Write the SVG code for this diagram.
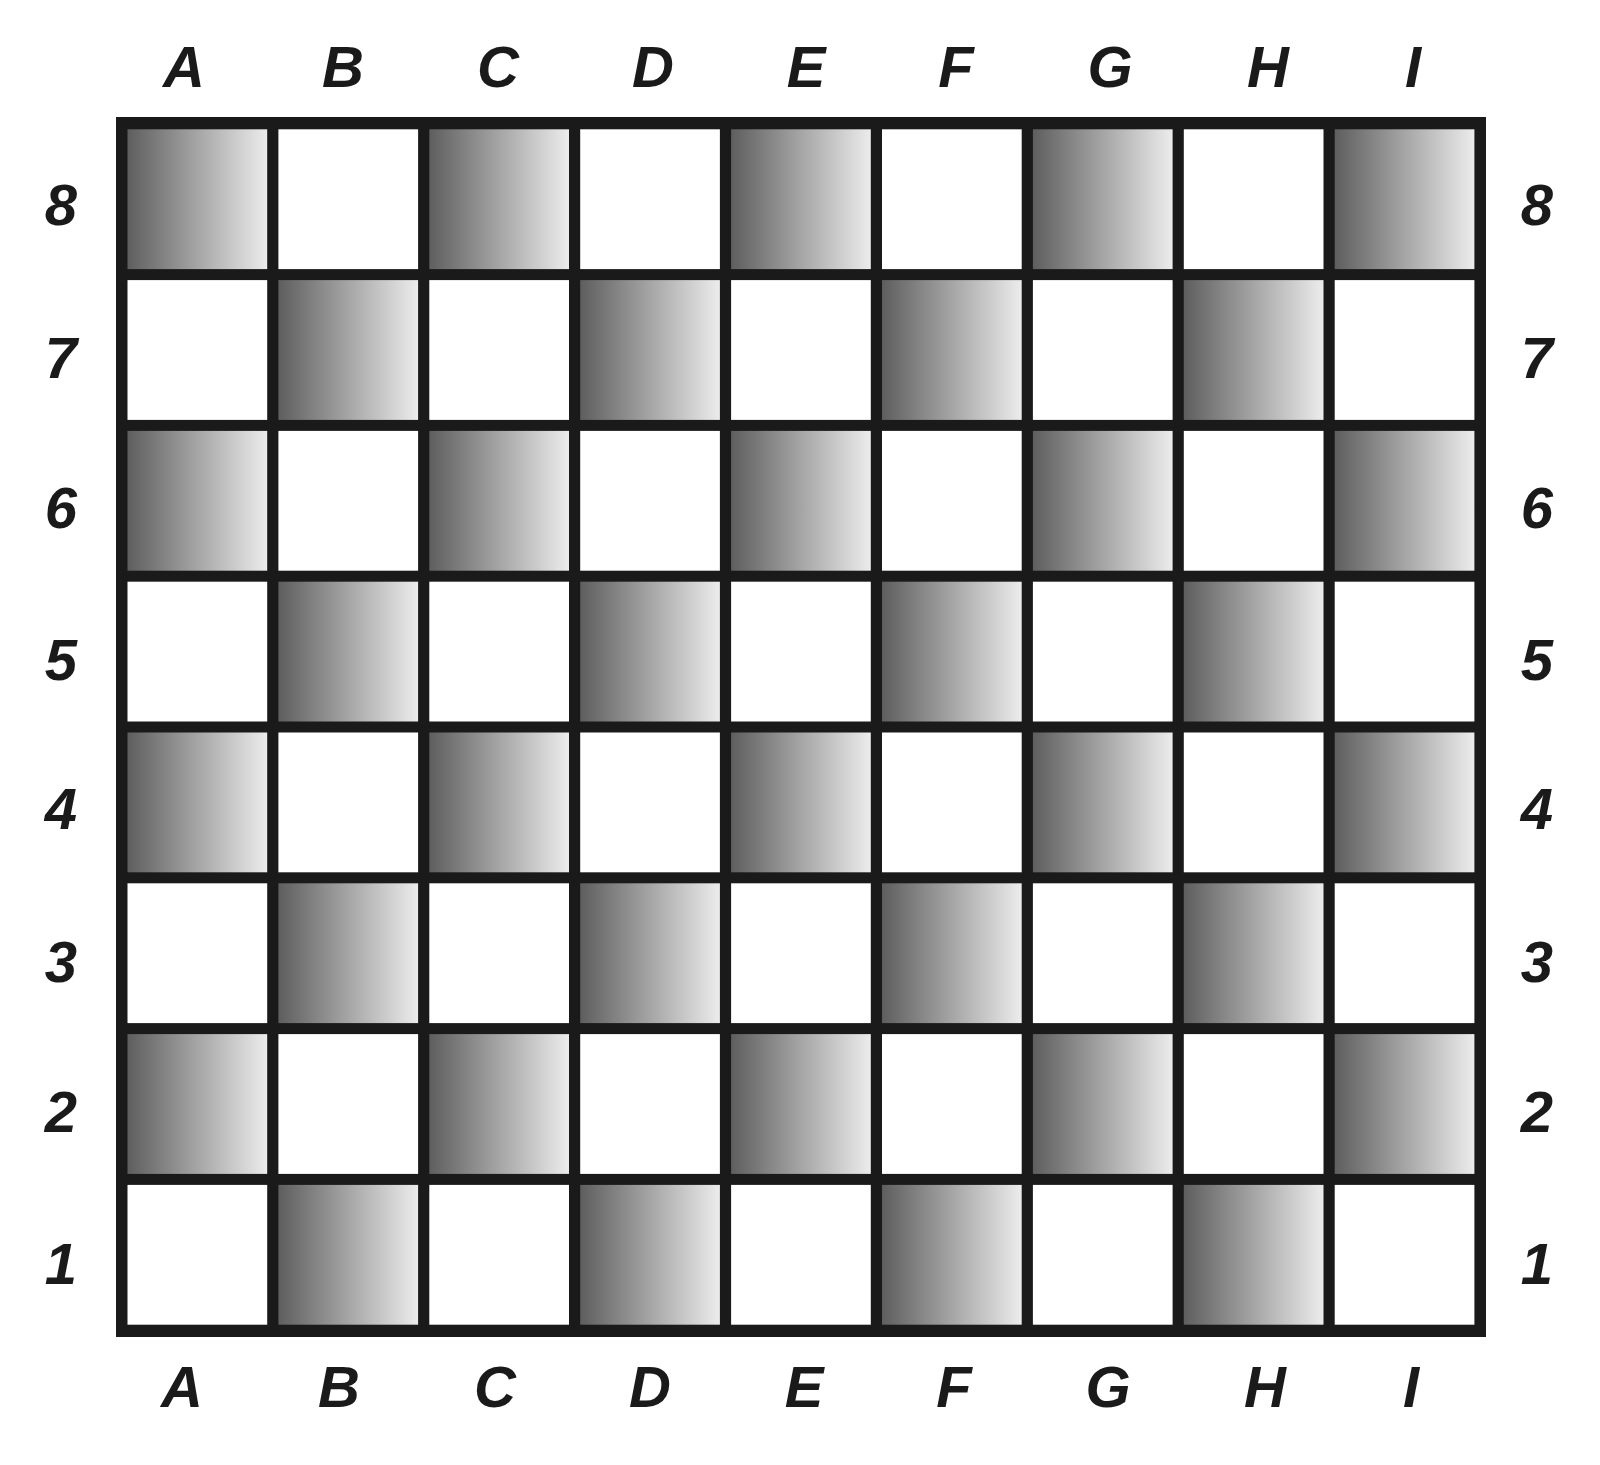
<svg xmlns="http://www.w3.org/2000/svg" width="1600" height="1465" viewBox="0 0 1600 1465">
<defs>
<linearGradient id="shade" x1="0" y1="0" x2="1" y2="0">
<stop offset="0" stop-color="#5e5e5e"/>
<stop offset="1" stop-color="#ececec"/>
</linearGradient>
<style>
.d{fill:url(#shade);}
.w{fill:#ffffff;}
.lbl{font-family:"Liberation Sans",Arial,sans-serif;font-weight:bold;font-style:italic;font-size:58px;fill:#1a1a1a;text-anchor:middle;}
</style>
</defs>
<rect width="1600" height="1465" fill="#ffffff"/>
<g id="board">
<rect x="116" y="117" width="1370" height="1220" fill="#1a1a1a"/>
</g>
<g id="cells">
<g id="row8">
<rect class="d" x="127.5" y="129.3" width="139.7" height="139.8"/>
<rect class="w" x="278.4" y="129.3" width="139.7" height="139.8"/>
<rect class="d" x="429.3" y="129.3" width="139.7" height="139.8"/>
<rect class="w" x="580.2" y="129.3" width="139.7" height="139.8"/>
<rect class="d" x="731.1" y="129.3" width="139.7" height="139.8"/>
<rect class="w" x="882" y="129.3" width="139.7" height="139.8"/>
<rect class="d" x="1032.9" y="129.3" width="139.7" height="139.8"/>
<rect class="w" x="1183.8" y="129.3" width="139.7" height="139.8"/>
<rect class="d" x="1334.7" y="129.3" width="139.7" height="139.8"/>
</g>
<g id="row7">
<rect class="w" x="127.5" y="280.1" width="139.7" height="139.8"/>
<rect class="d" x="278.4" y="280.1" width="139.7" height="139.8"/>
<rect class="w" x="429.3" y="280.1" width="139.7" height="139.8"/>
<rect class="d" x="580.2" y="280.1" width="139.7" height="139.8"/>
<rect class="w" x="731.1" y="280.1" width="139.7" height="139.8"/>
<rect class="d" x="882" y="280.1" width="139.7" height="139.8"/>
<rect class="w" x="1032.9" y="280.1" width="139.7" height="139.8"/>
<rect class="d" x="1183.8" y="280.1" width="139.7" height="139.8"/>
<rect class="w" x="1334.7" y="280.1" width="139.7" height="139.8"/>
</g>
<g id="row6">
<rect class="d" x="127.5" y="430.9" width="139.7" height="139.8"/>
<rect class="w" x="278.4" y="430.9" width="139.7" height="139.8"/>
<rect class="d" x="429.3" y="430.9" width="139.7" height="139.8"/>
<rect class="w" x="580.2" y="430.9" width="139.7" height="139.8"/>
<rect class="d" x="731.1" y="430.9" width="139.7" height="139.8"/>
<rect class="w" x="882" y="430.9" width="139.7" height="139.8"/>
<rect class="d" x="1032.9" y="430.9" width="139.7" height="139.8"/>
<rect class="w" x="1183.8" y="430.9" width="139.7" height="139.8"/>
<rect class="d" x="1334.7" y="430.9" width="139.7" height="139.8"/>
</g>
<g id="row5">
<rect class="w" x="127.5" y="581.7" width="139.7" height="139.8"/>
<rect class="d" x="278.4" y="581.7" width="139.7" height="139.8"/>
<rect class="w" x="429.3" y="581.7" width="139.7" height="139.8"/>
<rect class="d" x="580.2" y="581.7" width="139.7" height="139.8"/>
<rect class="w" x="731.1" y="581.7" width="139.7" height="139.8"/>
<rect class="d" x="882" y="581.7" width="139.7" height="139.8"/>
<rect class="w" x="1032.9" y="581.7" width="139.7" height="139.8"/>
<rect class="d" x="1183.8" y="581.7" width="139.7" height="139.8"/>
<rect class="w" x="1334.7" y="581.7" width="139.7" height="139.8"/>
</g>
<g id="row4">
<rect class="d" x="127.5" y="732.5" width="139.7" height="139.8"/>
<rect class="w" x="278.4" y="732.5" width="139.7" height="139.8"/>
<rect class="d" x="429.3" y="732.5" width="139.7" height="139.8"/>
<rect class="w" x="580.2" y="732.5" width="139.7" height="139.8"/>
<rect class="d" x="731.1" y="732.5" width="139.7" height="139.8"/>
<rect class="w" x="882" y="732.5" width="139.7" height="139.8"/>
<rect class="d" x="1032.9" y="732.5" width="139.7" height="139.8"/>
<rect class="w" x="1183.8" y="732.5" width="139.7" height="139.8"/>
<rect class="d" x="1334.7" y="732.5" width="139.7" height="139.8"/>
</g>
<g id="row3">
<rect class="w" x="127.5" y="883.3" width="139.7" height="139.8"/>
<rect class="d" x="278.4" y="883.3" width="139.7" height="139.8"/>
<rect class="w" x="429.3" y="883.3" width="139.7" height="139.8"/>
<rect class="d" x="580.2" y="883.3" width="139.7" height="139.8"/>
<rect class="w" x="731.1" y="883.3" width="139.7" height="139.8"/>
<rect class="d" x="882" y="883.3" width="139.7" height="139.8"/>
<rect class="w" x="1032.9" y="883.3" width="139.7" height="139.8"/>
<rect class="d" x="1183.8" y="883.3" width="139.7" height="139.8"/>
<rect class="w" x="1334.7" y="883.3" width="139.7" height="139.8"/>
</g>
<g id="row2">
<rect class="d" x="127.5" y="1034.1" width="139.7" height="139.8"/>
<rect class="w" x="278.4" y="1034.1" width="139.7" height="139.8"/>
<rect class="d" x="429.3" y="1034.1" width="139.7" height="139.8"/>
<rect class="w" x="580.2" y="1034.1" width="139.7" height="139.8"/>
<rect class="d" x="731.1" y="1034.1" width="139.7" height="139.8"/>
<rect class="w" x="882" y="1034.1" width="139.7" height="139.8"/>
<rect class="d" x="1032.9" y="1034.1" width="139.7" height="139.8"/>
<rect class="w" x="1183.8" y="1034.1" width="139.7" height="139.8"/>
<rect class="d" x="1334.7" y="1034.1" width="139.7" height="139.8"/>
</g>
<g id="row1">
<rect class="w" x="127.5" y="1184.9" width="139.7" height="139.8"/>
<rect class="d" x="278.4" y="1184.9" width="139.7" height="139.8"/>
<rect class="w" x="429.3" y="1184.9" width="139.7" height="139.8"/>
<rect class="d" x="580.2" y="1184.9" width="139.7" height="139.8"/>
<rect class="w" x="731.1" y="1184.9" width="139.7" height="139.8"/>
<rect class="d" x="882" y="1184.9" width="139.7" height="139.8"/>
<rect class="w" x="1032.9" y="1184.9" width="139.7" height="139.8"/>
<rect class="d" x="1183.8" y="1184.9" width="139.7" height="139.8"/>
<rect class="w" x="1334.7" y="1184.9" width="139.7" height="139.8"/>
</g>
</g>
<g id="labels-top">
<text class="lbl" x="184" y="87">A</text>
<text class="lbl" x="343" y="87">B</text>
<text class="lbl" x="498" y="87">C</text>
<text class="lbl" x="653" y="87">D</text>
<text class="lbl" x="806" y="87">E</text>
<text class="lbl" x="956" y="87">F</text>
<text class="lbl" x="1110" y="87">G</text>
<text class="lbl" x="1268" y="87">H</text>
<text class="lbl" x="1413" y="87">I</text>
</g>
<g id="labels-bottom">
<text class="lbl" x="182" y="1407">A</text>
<text class="lbl" x="339" y="1407">B</text>
<text class="lbl" x="495" y="1407">C</text>
<text class="lbl" x="650" y="1407">D</text>
<text class="lbl" x="804" y="1407">E</text>
<text class="lbl" x="954" y="1407">F</text>
<text class="lbl" x="1108" y="1407">G</text>
<text class="lbl" x="1265" y="1407">H</text>
<text class="lbl" x="1411" y="1407">I</text>
</g>
<g id="labels-left">
<text class="lbl" x="61" y="225">8</text>
<text class="lbl" x="61" y="378">7</text>
<text class="lbl" x="61" y="528">6</text>
<text class="lbl" x="61" y="680">5</text>
<text class="lbl" x="61" y="829">4</text>
<text class="lbl" x="61" y="982">3</text>
<text class="lbl" x="61" y="1132">2</text>
<text class="lbl" x="61" y="1284">1</text>
</g>
<g id="labels-right">
<text class="lbl" x="1537" y="225">8</text>
<text class="lbl" x="1537" y="378">7</text>
<text class="lbl" x="1537" y="528">6</text>
<text class="lbl" x="1537" y="680">5</text>
<text class="lbl" x="1537" y="829">4</text>
<text class="lbl" x="1537" y="982">3</text>
<text class="lbl" x="1537" y="1132">2</text>
<text class="lbl" x="1537" y="1284">1</text>
</g>
</svg>
